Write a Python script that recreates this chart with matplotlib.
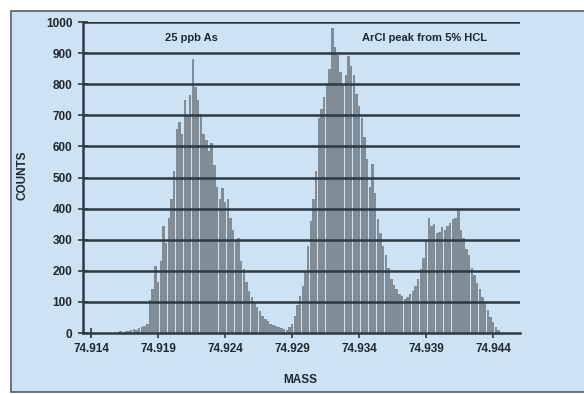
import matplotlib.pyplot as plt
import numpy as np
from matplotlib.patches import Rectangle

# mass channels (step 0.0002) and counts
mass_start = 74.9160
mass_step = 0.0002
counts = [3, 5, 4, 8, 6, 10, 12, 9, 15, 18,
          22, 30, 105, 140, 215, 165, 230, 345, 290, 370,
          430, 520, 655, 680, 640, 750, 700, 765, 880, 790,
          750, 705, 640, 620, 585, 610, 540, 470, 430, 465,
          420, 430, 370, 330, 300, 305, 230, 205, 165, 135,
          115, 95, 85, 70, 55, 45, 40, 30, 25, 22,
          20, 15, 12, 10, 18, 30, 55, 90, 120, 150,
          195, 280, 360, 430, 520, 690, 720, 760, 800, 850,
          980, 920, 895, 840, 800, 830, 890, 860, 830, 770,
          730, 690, 630, 560, 470, 545, 450, 365, 320, 280,
          250, 210, 175, 155, 140, 125, 120, 110, 115, 125,
          135, 150, 175, 205, 240, 300, 370, 345, 350, 320,
          325, 340, 330, 345, 355, 365, 370, 400, 330, 305,
          270, 250, 210, 185, 160, 140, 115, 95, 75, 50,
          35, 20, 10]
mass = mass_start + mass_step * np.arange(len(counts))

xticks = [74.914, 74.919, 74.924, 74.929, 74.934, 74.939, 74.944]
xlabels = ["74.914", "74.919", "74.924", "74.929", "74.934", "74.939", "74.944"]
yticks = [0, 100, 200, 300, 400, 500, 600, 700, 800, 900, 1000]

plt.rcParams['font.family'] = ['Liberation Sans', 'DejaVu Sans']
plt.rcParams['font.weight'] = 'bold'

blue = '#cde2f2'
dark = '#2c3a44'

fig = plt.figure(figsize=(5.84, 3.94), dpi=100)
fig.patch.set_facecolor('white')
fig.patches.append(Rectangle((0.019, 0.006), 0.985, 0.966, transform=fig.transFigure,
                             facecolor=blue, edgecolor='#55606a', linewidth=1.2, zorder=-10))

ax = fig.add_axes([0.1421, 0.1548, 0.7483, 0.7893])
ax.set_zorder(5)
ax.set_facecolor('none')
ax.bar(mass, counts, width=mass_step * 0.9, color='#808d97', edgecolor='none', zorder=2)

for y in yticks[1:]:
    ax.axhline(y, color=dark, linewidth=1.8, zorder=3)

ax.set_xlim(74.9134, 74.9460)
ax.set_ylim(0, 1000)
ax.set_xticks(xticks)
ax.set_xticklabels(xlabels)
ax.set_yticks(yticks)
ax.tick_params(axis='both', direction='inout', length=7, width=1.2, color=dark,
               labelsize=8.5, labelcolor='#1e2830')
ax.tick_params(axis='y', pad=4)
ax.tick_params(axis='x', pad=4)
for s in ['top', 'right']:
    ax.spines[s].set_visible(False)
for s in ['left', 'bottom']:
    ax.spines[s].set_color(dark)
    ax.spines[s].set_linewidth(1.8)
    ax.spines[s].set_zorder(4)

ax.text(74.9215, 948, "25 ppb As", ha='center', va='center', fontsize=8, color='#1e2830')
ax.text(74.9389, 948, "ArCl peak from 5% HCL", ha='center', va='center', fontsize=8, color='#1e2830')

fig.text(22 / 584, 1 - 175 / 394, "COUNTS", rotation=90, ha='center', va='center',
         fontsize=8.5, color='#1e2830')
fig.text(300 / 584, 1 - 380 / 394, "MASS", ha='center', va='center',
         fontsize=8.5, color='#1e2830')

fig.savefig('out.png', dpi=100)
